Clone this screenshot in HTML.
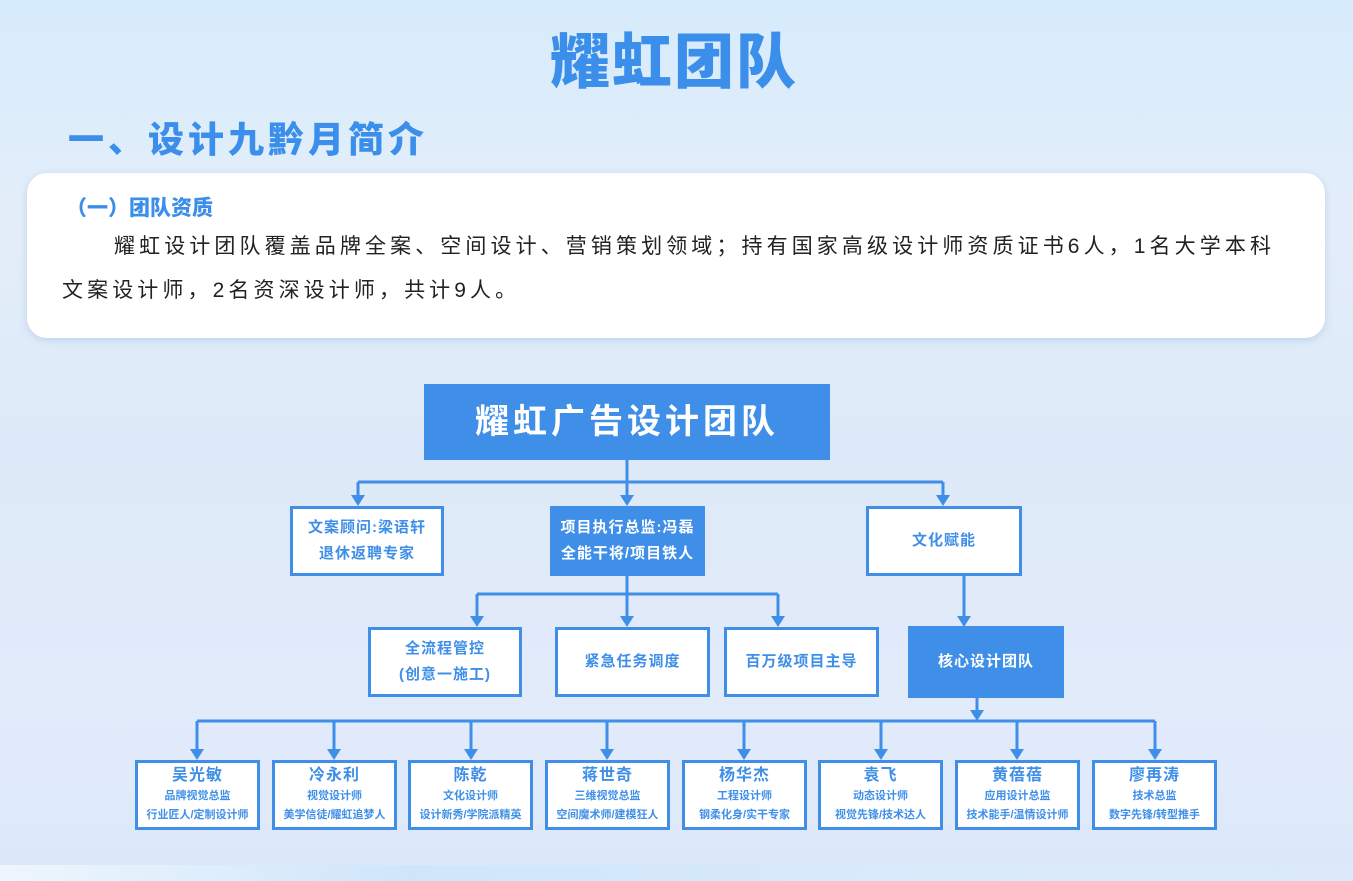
<!DOCTYPE html>
<html><head><meta charset="utf-8">
<style>
*{margin:0;padding:0;box-sizing:border-box}
body{width:1353px;height:881px;overflow:hidden;position:relative;font-family:"Liberation Sans","Noto Sans CJK SC",sans-serif;
background:linear-gradient(180deg,#d6ebfb 0%,#e4eefa 25%,#dde9f8 50%,#e2ebfa 80%,#dce8fa 98%);}
.bot{position:absolute;left:0;top:865px;width:1353px;height:16px;background:linear-gradient(90deg,#eef6fd,#cfe6fa 30%,#d9ebfb 70%,#dbe9fa)}
.t{position:absolute;font-weight:900;color:#3b8fea;white-space:nowrap}
.card{position:absolute;left:27px;top:173px;width:1298px;height:165px;background:#fff;border-radius:20px;box-shadow:0 2px 8px rgba(120,160,210,.35)}
.b{position:absolute;border:3px solid #3f8fe8;background:#fff;color:#3f8fe8;font-weight:bold;display:flex;flex-direction:column;align-items:center;justify-content:center;text-align:center;font-size:15px;line-height:26px;letter-spacing:1px}
.f{background:#3f8fe8;color:#fff}
.s .n{font-size:16px;line-height:22px}
.s .r{font-size:11px;line-height:19px;letter-spacing:0}
</style></head><body>
<div class="bot"></div>
<div class="t" style="left:550px;top:14px;font-size:60px;letter-spacing:2px">耀虹团队</div>
<div class="t" style="left:68px;top:111px;font-size:36px;letter-spacing:4px">一、设计九黔月简介</div>
<div class="card"></div>
<div class="t" style="left:66px;top:192px;font-size:21px;color:#3b8fea">（一）团队资质</div>
<div style="position:absolute;left:62px;top:225px;font-size:21px;line-height:44px;color:#222;letter-spacing:4.1px;white-space:nowrap"><span style="display:inline-block;width:52px"></span>耀虹设计团队覆盖品牌全案、空间设计、营销策划领域；持有国家高级设计师资质证书6人，1名大学本科<br>文案设计师，2名资深设计师，共计9人。</div>

<svg style="position:absolute;left:0;top:0" width="1353" height="881">
<g stroke="#3f8fe8" stroke-width="3" fill="none">
<path d="M627 460V496M358 482H943M358 482V496M943 482V496"/>
<path d="M627 575V617M477 594H778M477 594V617M778 594V617"/>
<path d="M964 575V617"/>
<path d="M977 698V712M197 721H1155"/>
<path d="M197 721V750M334 721V750M471 721V750M607 721V750M744 721V750M881 721V750M1017 721V750M1155 721V750"/>
</g>
<g fill="#3f8fe8">
<path d="M351 495h14l-7 11z"/><path d="M620 495h14l-7 11z"/><path d="M936 495h14l-7 11z"/>
<path d="M470 616h14l-7 11z"/><path d="M620 616h14l-7 11z"/><path d="M771 616h14l-7 11z"/><path d="M957 616h14l-7 11z"/>
<path d="M970 710h14l-7 11z"/>
<path d="M190 749h14l-7 11z"/><path d="M327 749h14l-7 11z"/><path d="M464 749h14l-7 11z"/><path d="M600 749h14l-7 11z"/><path d="M737 749h14l-7 11z"/><path d="M874 749h14l-7 11z"/><path d="M1010 749h14l-7 11z"/><path d="M1148 749h14l-7 11z"/>
</g>
</svg>

<div class="b f" style="left:424px;top:384px;width:406px;height:76px;font-size:34px;letter-spacing:4px;border:none">耀虹广告设计团队</div>
<div class="b" style="left:290px;top:506px;width:154px;height:70px">文案顾问:梁语轩<br>退休返聘专家</div>
<div class="b f" style="left:550px;top:506px;width:155px;height:70px;border:none">项目执行总监:冯磊<br>全能干将/项目铁人</div>
<div class="b" style="left:866px;top:506px;width:156px;height:70px">文化赋能</div>
<div class="b" style="left:368px;top:627px;width:154px;height:70px">全流程管控<br>(创意一施工)</div>
<div class="b" style="left:555px;top:627px;width:155px;height:70px">紧急任务调度</div>
<div class="b" style="left:724px;top:627px;width:155px;height:70px">百万级项目主导</div>
<div class="b f" style="left:908px;top:626px;width:156px;height:72px;border:none">核心设计团队</div>

<div class="b s" style="left:135px;top:760px;width:125px;height:70px"><div class="n">吴光敏</div><div class="r">品牌视觉总监</div><div class="r">行业匠人/定制设计师</div></div>
<div class="b s" style="left:272px;top:760px;width:125px;height:70px"><div class="n">冷永利</div><div class="r">视觉设计师</div><div class="r">美学信徒/耀虹追梦人</div></div>
<div class="b s" style="left:408px;top:760px;width:125px;height:70px"><div class="n">陈乾</div><div class="r">文化设计师</div><div class="r">设计新秀/学院派精英</div></div>
<div class="b s" style="left:545px;top:760px;width:125px;height:70px"><div class="n">蒋世奇</div><div class="r">三维视觉总监</div><div class="r">空间魔术师/建模狂人</div></div>
<div class="b s" style="left:682px;top:760px;width:125px;height:70px"><div class="n">杨华杰</div><div class="r">工程设计师</div><div class="r">钢柔化身/实干专家</div></div>
<div class="b s" style="left:818px;top:760px;width:125px;height:70px"><div class="n">袁飞</div><div class="r">动态设计师</div><div class="r">视觉先锋/技术达人</div></div>
<div class="b s" style="left:955px;top:760px;width:125px;height:70px"><div class="n">黄蓓蓓</div><div class="r">应用设计总监</div><div class="r">技术能手/温情设计师</div></div>
<div class="b s" style="left:1092px;top:760px;width:125px;height:70px"><div class="n">廖再涛</div><div class="r">技术总监</div><div class="r">数字先锋/转型推手</div></div>
</body></html>
